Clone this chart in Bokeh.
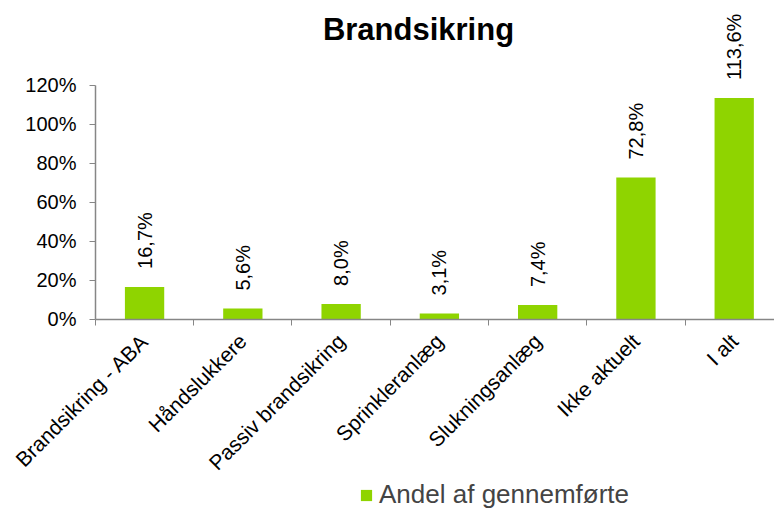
from math import pi
from bokeh.plotting import figure
from bokeh.models import (ColumnDataSource, FixedTicker, LabelSet, Label, Legend, LegendItem,
                          PrintfTickFormatter, Range1d)
from bokeh.core.properties import value
from bokeh.embed import file_html
from bokeh.resources import INLINE

categories = ["Brandsikring - ABA", "Håndslukkere", "Passiv brandsikring",
              "Sprinkleranlæg", "Slukningsanlæg", "Ikke aktuelt", "I alt"]
values = [16.7, 5.6, 8.0, 3.1, 7.4, 72.8, 113.6]
y_ticks = [0, 20, 40, 60, 80, 100, 120]
series_name = "Andel af gennemførte"
title_text = "Brandsikring"

FONT = "Liberation Sans"
GREEN = "#8FD400"
AXIS = "#868686"

centers = [i + 0.5 for i in range(len(categories))]
labels = [f"{v:.1f}".replace(".", ",") + "%" for v in values]
src = ColumnDataSource(dict(x=centers, top=values, lab=labels))

p = figure(width=774, height=514, output_backend="svg", toolbar_location=None,
           x_range=Range1d(-0.966, 6.91), y_range=Range1d(-100.0, 161.0),
           min_border_left=0, min_border_right=0, min_border_top=5, min_border_bottom=0)
p.outline_line_color = None
p.background_fill_color = "white"
p.border_fill_color = "white"
p.xgrid.grid_line_color = None
p.ygrid.grid_line_color = None

r = p.vbar(x="x", top="top", width=0.4, bottom=0, source=src, fill_color=GREEN,
           line_color=None)

# title drawn as text inside the canvas
title = Label(x=418, y=485, x_units="screen", y_units="screen", text=title_text,
              text_font=FONT, text_font_size="31px", text_font_style="bold",
              text_align="center", text_baseline="alphabetic", text_color="black")
p.add_layout(title)

# x axis, pinned at y = 0
xa = p.xaxis[0]
xa.fixed_location = 0
xa.bounds = (0, 7)
xa.ticker = FixedTicker(ticks=centers, minor_ticks=list(range(len(categories) + 1)))
xa.major_label_overrides = {c: n for c, n in zip(centers, categories)}
xa.major_label_orientation = pi / 4
xa.major_tick_line_color = None
xa.minor_tick_line_color = AXIS
xa.minor_tick_out = 6
xa.minor_tick_in = 0
xa.minor_tick_line_width = 1
xa.axis_line_color = AXIS
xa.axis_line_width = 1.5
xa.major_label_text_font = FONT
xa.major_label_text_font_size = "21px"
xa.major_label_text_color = "black"
xa.major_label_standoff = 12

# y axis, pinned at x = 0
ya = p.yaxis[0]
ya.fixed_location = 0
ya.ticker = FixedTicker(ticks=y_ticks, minor_ticks=[])
ya.bounds = (0, 120)
ya.formatter = PrintfTickFormatter(format="%d%%")
ya.axis_line_color = AXIS
ya.axis_line_width = 1.5
ya.major_tick_line_color = AXIS
ya.major_tick_out = 6
ya.major_tick_in = 0
ya.minor_tick_line_color = None
ya.major_label_text_font = FONT
ya.major_label_text_font_size = "20px"
ya.major_label_text_color = "black"
ya.major_label_standoff = 13

# value labels
ls = LabelSet(x="x", y="top", text="lab", source=src, angle=pi / 2, y_offset=18,
              text_align="left", text_baseline="middle", text_font=value(FONT),
              text_font_size="20px", text_color="black")
p.add_layout(ls)

legend = Legend(items=[LegendItem(label=series_name, renderers=[r])],
                location=(359, 4), orientation="horizontal",
                label_text_font=FONT, label_text_font_size="26px",
                glyph_width=14, glyph_height=14, label_standoff=6,
                border_line_color=None, background_fill_alpha=0,
                padding=0, margin=0)
p.add_layout(legend, "center")

open("out.html", "w").write(file_html(p, INLINE))
